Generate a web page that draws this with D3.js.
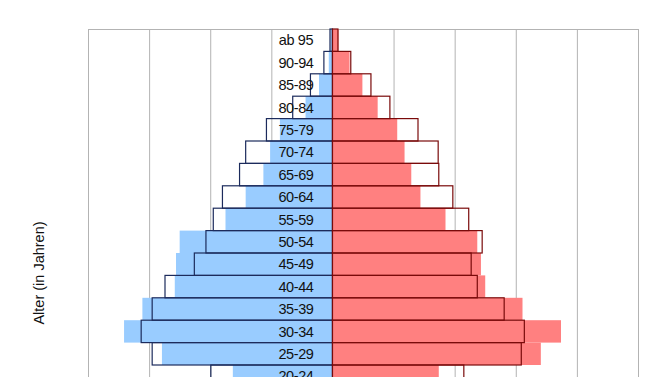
<!DOCTYPE html>
<html><head><meta charset="utf-8">
<script src="https://cdn.jsdelivr.net/npm/d3@7"></script>
<style>html,body{margin:0;padding:0;background:#fff;overflow:hidden}</style>
</head><body>
<svg id="c" width="667" height="377"></svg>
<script>
const ageGroups = ["ab 95","90-94","85-89","80-84","75-79","70-74","65-69","60-64","55-59","50-54","45-49","40-44","35-39","30-34","25-29","20-24"];
// filled bars (current)
const maleFill   = [0.03,0.06,0.22,0.44,0.86,1.02,1.13,1.42,1.75,2.50,2.56,2.58,3.11,3.41,2.79,1.63];
const femaleFill = [0.10,0.28,0.49,0.74,1.06,1.18,1.29,1.44,1.85,2.37,2.43,2.50,3.11,3.74,3.41,1.74];
// outlined bars (comparison)
const maleLine   = [0.04,0.14,0.36,0.65,1.08,1.42,1.52,1.80,1.95,2.07,2.26,2.74,2.95,3.13,2.95,1.99];
const femaleLine = [0.09,0.30,0.63,0.94,1.40,1.73,1.74,1.97,2.23,2.45,2.27,2.37,2.81,3.14,3.09,2.15];
const xTicks = [-4,-3,-2,-1,0,1,2,3,4,5];

(function(){
const svg = d3.select("#c");
const plotTop = 29, rowH = 22.4;
const x = d3.scaleLinear().domain([-4,5]).range([88,638]);
const y = d3.scaleBand().domain(ageGroups).range([plotTop, plotTop + ageGroups.length*rowH]).padding(0);
const plotBottom = plotTop + ageGroups.length*rowH;

// gridlines
const grid = svg.append("g").attr("transform",`translate(0,${plotTop})`)
  .call(d3.axisBottom(x).tickValues(xTicks).tickSize(plotBottom-plotTop).tickFormat(""));
grid.select(".domain").remove();
grid.selectAll("line").attr("stroke","#b3b3b3").attr("stroke-width",1);
svg.append("line").attr("x1",x(-4)).attr("x2",x(5)+1).attr("y1",plotTop+0.5).attr("y2",plotTop+0.5).attr("stroke","#b3b3b3");

const idx = d3.range(ageGroups.length);
svg.append("g").selectAll("rect").data(idx).join("rect")
  .attr("x",i=>x(-maleFill[i])).attr("y",i=>y(ageGroups[i]))
  .attr("width",i=>x(0)-x(-maleFill[i])).attr("height",y.bandwidth())
  .attr("fill","#99ccff");
svg.append("g").selectAll("rect").data(idx).join("rect")
  .attr("x",x(0)).attr("y",i=>y(ageGroups[i]))
  .attr("width",i=>x(femaleFill[i])-x(0)).attr("height",y.bandwidth())
  .attr("fill","#ff8080");
svg.append("g").selectAll("rect").data(idx).join("rect")
  .attr("x",i=>x(-maleLine[i])).attr("y",i=>y(ageGroups[i]))
  .attr("width",i=>x(0)-x(-maleLine[i])).attr("height",y.bandwidth())
  .attr("fill","none").attr("stroke","#1c2b5c").attr("stroke-width",1.2);
svg.append("g").selectAll("rect").data(idx).join("rect")
  .attr("x",x(0)).attr("y",i=>y(ageGroups[i]))
  .attr("width",i=>x(femaleLine[i])-x(0)).attr("height",y.bandwidth())
  .attr("fill","none").attr("stroke","#7a0a0a").attr("stroke-width",1.2);

svg.append("g").selectAll("text").data(ageGroups).join("text")
  .attr("x",296).attr("y",d=>y(d)+y.bandwidth()/2).attr("dy","0.36em")
  .attr("text-anchor","middle").attr("font-family","Liberation Sans, Arial, sans-serif")
  .attr("font-size",14.5).attr("letter-spacing","-0.4").attr("fill","#111")
  .text(d=>d);

svg.append("text").attr("transform","translate(44,273) rotate(-90)")
  .attr("text-anchor","middle").attr("font-family","Liberation Sans, Arial, sans-serif")
  .attr("font-size",14.5).attr("fill","#111").text("Alter (in Jahren)");
})();
</script>
</body></html>
